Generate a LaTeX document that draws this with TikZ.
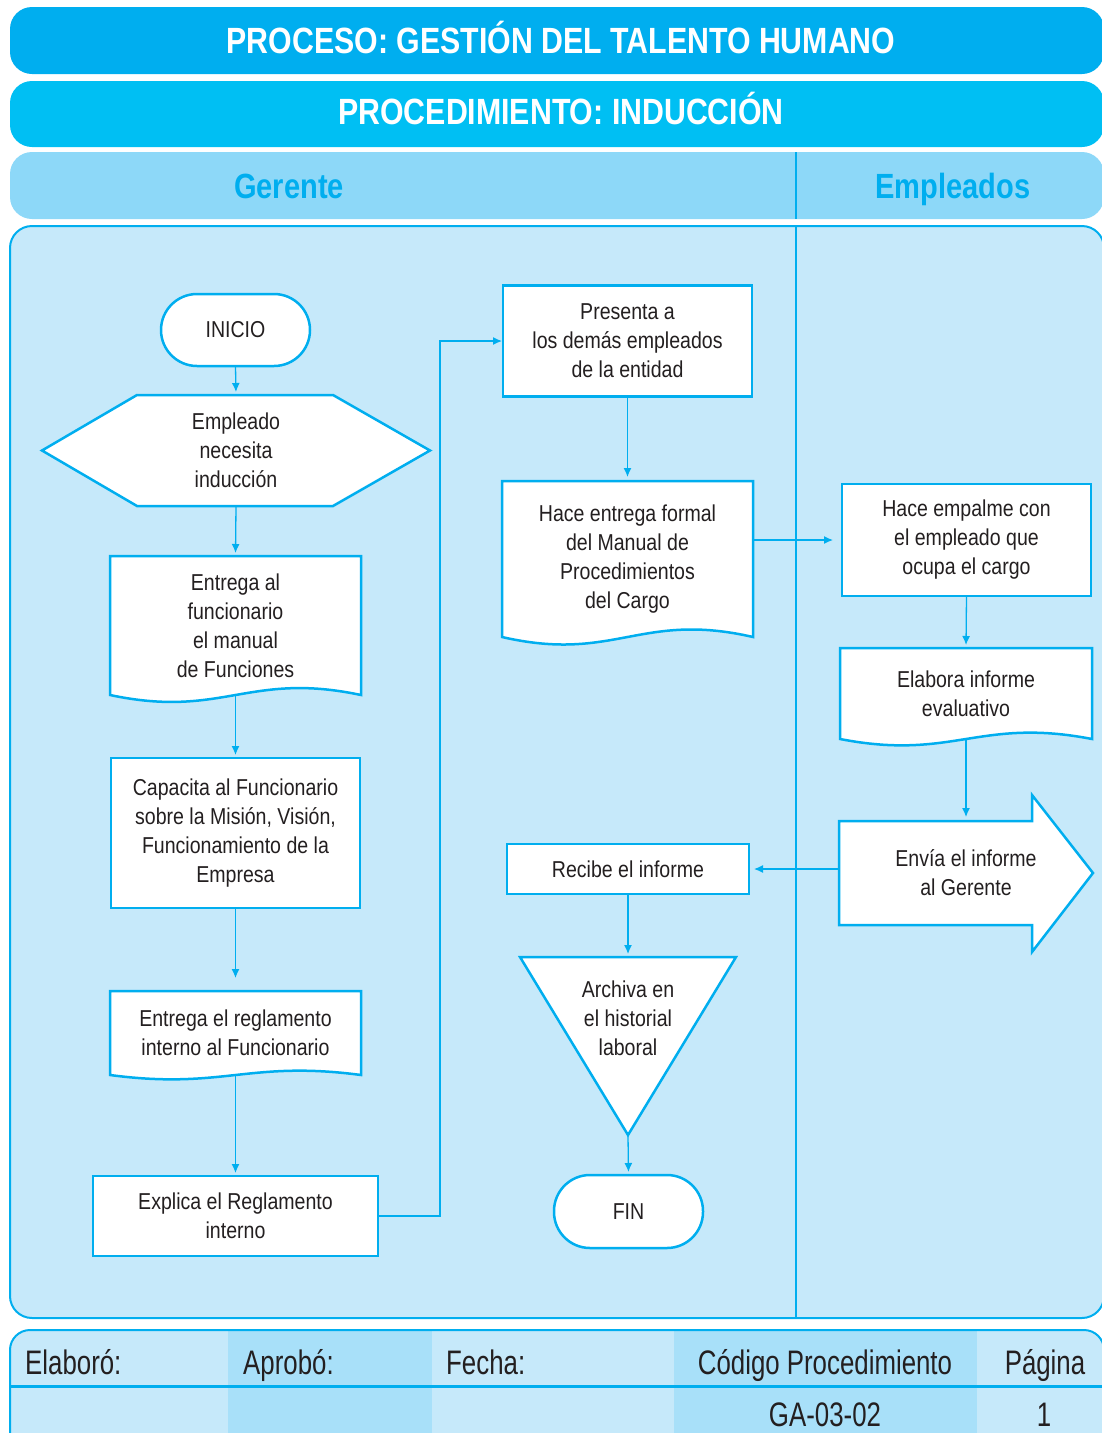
\documentclass[tikz,border=0pt]{standalone}
\usepackage{fontspec}
\setmainfont{Liberation Sans}[FakeStretch=0.85]
\newfontfamily\headfont{Liberation Sans}[FakeStretch=0.83]
\newfontfamily\footfont{Liberation Sans}[FakeStretch=0.76]
\usetikzlibrary{arrows.meta,calc}
\definecolor{cyanA}{HTML}{00AEEF}
\definecolor{cyanB}{HTML}{00BFF3}
\definecolor{laneblue}{HTML}{8DD8F8}
\definecolor{panelblue}{HTML}{C6E9FA}
\definecolor{cellblue}{HTML}{A8E0F9}
\definecolor{ink}{HTML}{231F20}
\pgfdeclarelayer{back}
\pgfdeclarelayer{mid}
\pgfsetlayers{back,mid,main}

% document symbol: straight top and sides, wavy bottom edge
\newcommand\docoutline[2]{%
  \path[shapeline] (#1.south west) -- (#1.north west) -- (#1.north east) -- (#1.south east)
    .. controls ($(#1.south east)!0.45!(#1.south west)+(0,-#2)$)
           and ($(#1.south west)!0.45!(#1.south east)+(0,#2)$) .. (#1.south west) -- cycle;}

\begin{document}
\begin{tikzpicture}[x=1pt,y=-1pt,
  txt/.style={font=\fontsize{23}{29}\selectfont, text=ink, align=center,
              inner sep=0pt, outer sep=0pt},
  shapeline/.style={draw=cyanA, line width=2.5pt, fill=white, line join=miter},
  procbox/.style={txt, shapeline},
  termbox/.style={txt, shapeline, rounded corners=36pt},
  freebox/.style={txt},
  arr/.style={draw=cyanA, line width=1.3pt, shorten >=3pt,
              -{Latex[length=9pt,width=8pt]}},
  band/.style={rounded corners=22pt},
  headtxt/.style={font=\headfont\bfseries\fontsize{36.5}{40}\selectfont, text=white,
                  inner sep=0pt},
  lanetxt/.style={font=\headfont\bfseries\fontsize{35}{40}\selectfont, text=cyanA,
                  inner sep=0pt},
  foottxt/.style={font=\footfont\fontsize{34}{40}\selectfont, text=ink, inner sep=0pt},
]
\useasboundingbox (0,0) rectangle (1101,1433);

% ---------- title bands ----------
\begin{pgfonlayer}{back}
  \fill[cyanA, band] (10,7) rectangle (1104,74);
  \fill[cyanB, band] (10,81) rectangle (1104,147);
  \fill[laneblue, band] (10,152) rectangle (1104,219);
  \draw[cyanA, line width=2pt] (796,152) -- (796,219);
  % swimlane panel
  \draw[cyanA, line width=2pt, fill=panelblue, rounded corners=22pt]
    (10,226) rectangle (1104,1318);
  \draw[cyanA, line width=2pt] (796,226) -- (796,1318);
  % footer table
  \begin{scope}
    \clip[rounded corners=20pt] (10,1330) rectangle (1104,1470);
    \fill[panelblue] (10,1330) rectangle (1104,1470);
    \fill[cellblue] (228,1330) rectangle (432,1470);
    \fill[cellblue] (674,1330) rectangle (977,1470);
  \end{scope}
  \draw[cyanA, line width=2pt, rounded corners=20pt] (10,1470) -- (10,1330) -- (1104,1330) -- (1104,1470);
  \draw[cyanA, line width=3pt] (10,1386) -- (1104,1386);
\end{pgfonlayer}

\node[headtxt, anchor=base] (proceso) at (561,53) {PROCESO: GESTIÓN DEL TALENTO HUMANO};
\node[headtxt, anchor=base] (procedimiento) at (561,124) {PROCEDIMIENTO: INDUCCIÓN};
\node[lanetxt, anchor=base] (gerente) at (289,198) {Gerente};
\node[lanetxt, anchor=base] (empleados) at (953,198) {Empleados};

% ---------- footer texts ----------
\node[foottxt, anchor=base west] (elaboro) at (25,1374) {Elaboró:};
\node[foottxt, anchor=base west] (aprobo) at (243,1374) {Aprobó:};
\node[foottxt, anchor=base west] (fecha) at (446,1374) {Fecha:};
\node[foottxt, anchor=base] (codigo) at (825,1374) {Código Procedimiento};
\node[foottxt, anchor=base] (pagina) at (1045,1374) {Página};
\node[foottxt, anchor=base] (codval) at (825,1426) {GA-03-02};
\node[foottxt, anchor=base] (pagval) at (1044,1426) {1};

% ---------- Gerente lane ----------
\node[termbox, minimum width=149pt, minimum height=72pt] (inicio) at (235.5,330) {INICIO};
\node[freebox, minimum width=388pt, minimum height=111pt] (hex) at (236,450.5)
  {Empleado\\necesita\\inducción};
\node[freebox, minimum width=251pt, minimum height=139pt] (doc1) at (235.5,625.5)
  {Entrega al\\funcionario\\el manual\\de Funciones};
\node[procbox, minimum width=249pt, minimum height=150pt] (capacita) at (235.5,833)
  {Capacita al Funcionario\\sobre la Misión, Visión,\\Funcionamiento de la\\Empresa};
\node[freebox, minimum width=251pt, minimum height=84pt] (doc2) at (235.5,1033)
  {Entrega el reglamento\\interno al Funcionario};
\node[procbox, minimum width=285pt, minimum height=80pt] (explica) at (235.5,1216)
  {Explica el Reglamento\\interno};

\node[procbox, minimum width=249pt, minimum height=111pt] (presenta) at (627.5,341)
  {Presenta a\\los demás empleados\\de la entidad};
\node[freebox, minimum width=251pt, minimum height=156pt] (doc3) at (627.5,559)
  {Hace entrega formal\\del Manual de\\Procedimientos\\del Cargo};
\node[procbox, minimum width=242pt, minimum height=50pt] (recibe) at (628,869)
  {Recibe el informe};
\coordinate (tritop) at (628,957);
\coordinate (trileft) at (520,957);
\coordinate (triright) at (736,957);
\coordinate (triapex) at (628,1135);
\node[freebox] (archiva) at (628,1018) {Archiva en\\el historial\\laboral};
\node[termbox, minimum width=149pt, minimum height=73pt] (fin) at (628.5,1211.5) {FIN};

% ---------- Empleados lane ----------
\node[procbox, minimum width=249pt, minimum height=112pt] (empalme) at (966.5,540)
  {Hace empalme con\\el empleado que\\ocupa el cargo};
\node[freebox, minimum width=252pt, minimum height=91pt] (doc4) at (966,693.5)
  {Elabora informe\\evaluativo};
\node[freebox, minimum width=254pt, minimum height=104pt] (envia) at (966,873)
  {Envía el informe\\al Gerente};

% ---------- outlines of the special symbols ----------
\begin{pgfonlayer}{mid}
  \path[shapeline] (hex.west) -- ($(hex.north west)+(95,0)$) -- ($(hex.north east)+(-97,0)$)
    -- (hex.east) -- ($(hex.south east)+(-97,0)$) -- ($(hex.south west)+(95,0)$) -- cycle;
  \docoutline{doc1}{24}
  \docoutline{doc2}{15}
  \docoutline{doc3}{26}
  \docoutline{doc4}{22}
  \path[shapeline] (trileft) -- (triright) -- (triapex) -- cycle;
  \path[shapeline] (envia.north west) -- ($(envia.north east)+(-61,0)$)
    -- ($(envia.north east)+(-61,-26)$) -- (envia.east)
    -- ($(envia.south east)+(-61,27)$) -- ($(envia.south east)+(-61,0)$)
    -- (envia.south west) -- cycle;
\end{pgfonlayer}

% ---------- connectors ----------
\draw[arr] (inicio.south) -- (hex.north);
\draw[arr] (hex.south) -- (doc1.north);
\draw[arr] (doc1.south) -- (capacita.north);
\draw[arr, shorten >=13pt] (capacita.south) -- (doc2.north);
\draw[arr] (doc2.south) -- (explica.north);
\draw[arr, shorten >=1pt] (explica.east) -| ([xshift=-63pt]presenta.west) -- (presenta.west);
\draw[arr, shorten >=4pt] (presenta.south) -- (doc3.north);
\draw[arr, shorten >=9pt] (doc3.east |- empalme.west) -- (empalme.west);
\draw[arr] (empalme.south) -- (doc4.north);
\draw[arr, shorten >=4pt] (doc4.south) -- (envia.north);
\draw[arr, shorten >=5pt] (envia.west |- recibe.east) -- (recibe.east);
\draw[arr] (recibe.south) -- (tritop);
\draw[arr] (triapex) -- (fin.north);
\end{tikzpicture}
\end{document}
